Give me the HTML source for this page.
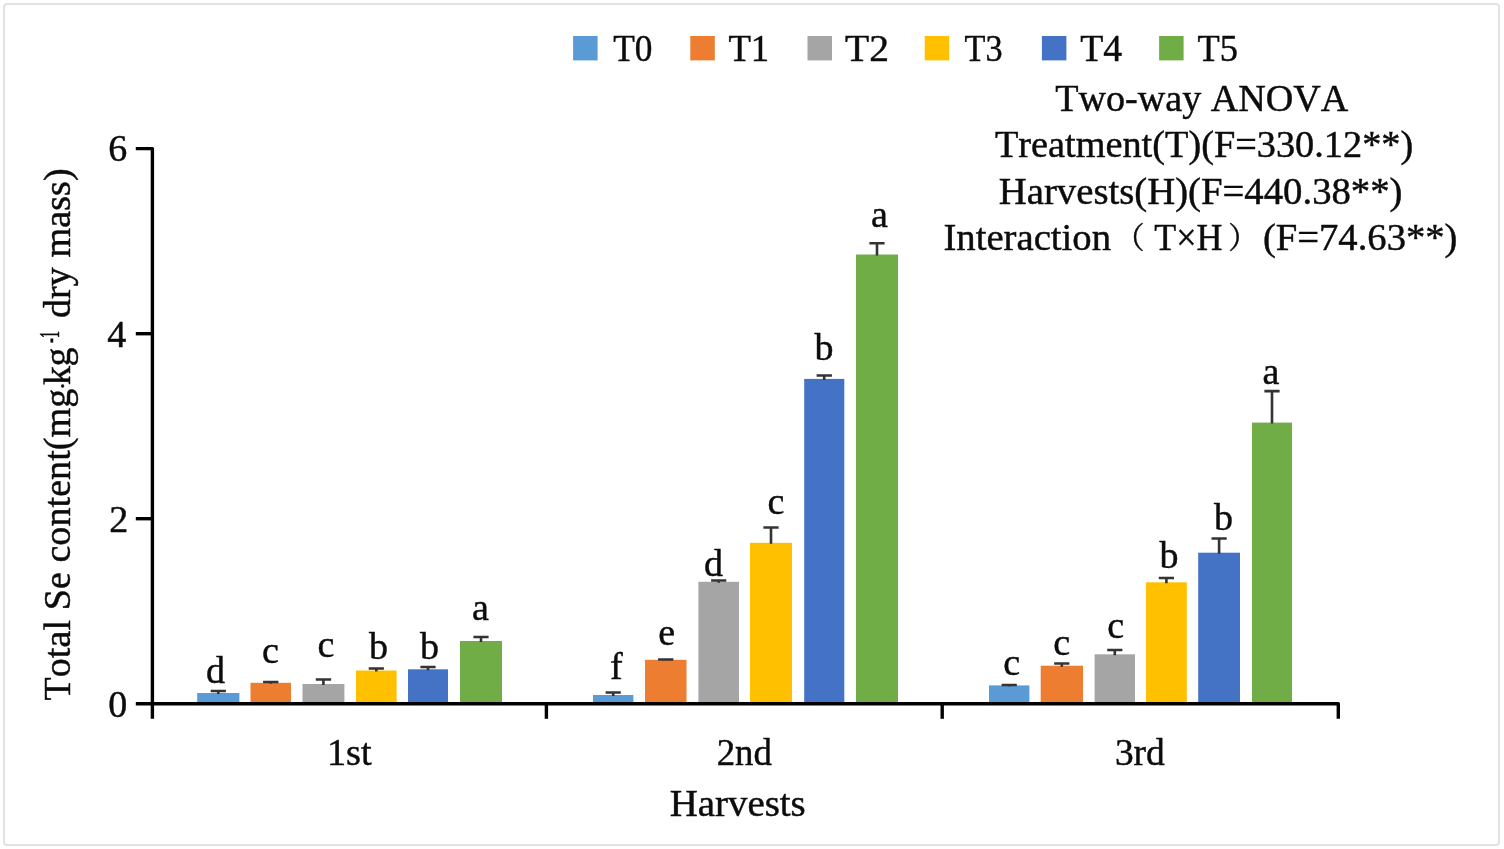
<!DOCTYPE html>
<html lang="en">
<head>
<meta charset="utf-8">
<title>Total Se content by harvest</title>
<style>
html,body{margin:0;padding:0;background:#fff;}
body{width:1504px;height:849px;overflow:hidden;}
svg{display:block;}
text{font-family:"Liberation Serif", "Noto Serif CJK SC", serif;font-size:38px;fill:#0c0c0c;stroke:#0c0c0c;stroke-width:0.45px;font-kerning:none;}
</style>
</head>
<body>
<svg width="1504" height="849" viewBox="0 0 1504 849">
<rect x="0" y="0" width="1504" height="849" fill="#ffffff"/>
<rect x="4" y="4" width="1495" height="841" rx="3" ry="3" fill="none" stroke="#e2e2e2" stroke-width="2"/>
<g>
<rect x="573.1" y="36" width="24.5" height="24.4" fill="#5B9BD5"/>
<rect x="690.3" y="36" width="24.5" height="24.4" fill="#ED7D31"/>
<rect x="807.5" y="36" width="24.5" height="24.4" fill="#A5A5A5"/>
<rect x="924.7" y="36" width="24.5" height="24.4" fill="#FFC000"/>
<rect x="1041.9" y="36" width="24.5" height="24.4" fill="#4472C4"/>
<rect x="1159.1" y="36" width="24.5" height="24.4" fill="#70AD47"/>
</g>
<g>
<rect x="197.2" y="693.0" width="42.2" height="10.8" fill="#5B9BD5"/>
<rect x="250.5" y="682.8" width="40.5" height="21.0" fill="#ED7D31"/>
<rect x="302.5" y="684.0" width="41.9" height="19.8" fill="#A5A5A5"/>
<rect x="356.0" y="670.5" width="40.6" height="33.3" fill="#FFC000"/>
<rect x="408.0" y="669.3" width="40.0" height="34.5" fill="#4472C4"/>
<rect x="460.0" y="641.0" width="42.0" height="62.8" fill="#70AD47"/>
<rect x="593.0" y="695.0" width="40.4" height="8.8" fill="#5B9BD5"/>
<rect x="645.0" y="659.8" width="41.5" height="44.0" fill="#ED7D31"/>
<rect x="698.4" y="581.8" width="40.6" height="122.0" fill="#A5A5A5"/>
<rect x="750.0" y="542.8" width="42.0" height="161.0" fill="#FFC000"/>
<rect x="804.2" y="378.9" width="40.1" height="324.9" fill="#4472C4"/>
<rect x="856.0" y="254.5" width="42.0" height="449.3" fill="#70AD47"/>
<rect x="989.0" y="685.4" width="40.4" height="18.4" fill="#5B9BD5"/>
<rect x="1040.7" y="665.7" width="42.3" height="38.1" fill="#ED7D31"/>
<rect x="1094.6" y="654.3" width="40.4" height="49.5" fill="#A5A5A5"/>
<rect x="1146.0" y="582.3" width="40.8" height="121.5" fill="#FFC000"/>
<rect x="1198.2" y="552.7" width="41.8" height="151.1" fill="#4472C4"/>
<rect x="1252.0" y="422.6" width="40.0" height="281.2" fill="#70AD47"/>
</g>
<g stroke="#333" stroke-width="2.6" fill="none">
<path d="M218.3 694.0V691.0M210.7 691.0H225.9"/>
<path d="M270.8 683.8V682.0M263.1 682.0H278.4"/>
<path d="M323.4 685.0V679.5M315.8 679.5H331.1"/>
<path d="M376.3 671.5V668.5M368.7 668.5H383.9"/>
<path d="M428.0 670.3V667.0M420.4 667.0H435.6"/>
<path d="M481.0 642.0V637.0M473.4 637.0H488.6"/>
<path d="M613.2 696.0V692.5M605.6 692.5H620.8"/>
<path d="M665.8 660.8V659.5M658.1 659.5H673.4"/>
<path d="M718.7 582.8V580.5M711.1 580.5H726.3"/>
<path d="M771.0 543.8V527.5M763.4 527.5H778.6"/>
<path d="M824.2 379.9V375.5M816.6 375.5H831.9"/>
<path d="M877.0 255.5V243.3M869.4 243.3H884.6"/>
<path d="M1009.2 686.4V685.0M1001.6 685.0H1016.8"/>
<path d="M1061.8 666.7V663.5M1054.2 663.5H1069.4"/>
<path d="M1114.8 655.3V650.0M1107.2 650.0H1122.4"/>
<path d="M1166.4 583.3V578.0M1158.8 578.0H1174.0"/>
<path d="M1219.1 553.7V538.5M1211.5 538.5H1226.7"/>
<path d="M1272.0 423.6V391.1M1264.4 391.1H1279.6"/>
</g>
<g stroke="#000" stroke-width="3.4" fill="none" stroke-linejoin="round">
<path d="M135.8 148.6H152.4V718.8"/>
<path d="M135.8 703.8H1338.3V718.8"/>
<path d="M135.8 518.7H152.4"/>
<path d="M135.8 333.7H152.4"/>
<path d="M546.4 703.8V718.8"/>
<path d="M942.2 703.8V718.8"/>
</g>
<g>
<text x="613.3" y="60.5" textLength="39.2" lengthAdjust="spacingAndGlyphs">T0</text>
<text x="728.4" y="60.5" textLength="40.8" lengthAdjust="spacingAndGlyphs">T1</text>
<text x="845.1" y="60.5" textLength="43.9" lengthAdjust="spacingAndGlyphs">T2</text>
<text x="964.5" y="60.5" textLength="38.0" lengthAdjust="spacingAndGlyphs">T3</text>
<text x="1080.2" y="60.5" textLength="41.9" lengthAdjust="spacingAndGlyphs">T4</text>
<text x="1197.5" y="60.5" textLength="40.4" lengthAdjust="spacingAndGlyphs">T5</text>
<text x="1055.2" y="110.8" textLength="293.1" lengthAdjust="spacingAndGlyphs">Two-way ANOVA</text>
<text x="994.9" y="157.4" textLength="418.3" lengthAdjust="spacingAndGlyphs">Treatment(T)(F=330.12**)</text>
<text x="998.8" y="204.3" textLength="403.7" lengthAdjust="spacingAndGlyphs">Harvests(H)(F=440.38**)</text>
<text x="943.4" y="249.8" textLength="167.7" lengthAdjust="spacingAndGlyphs">Interaction</text>
<text x="1114.6" y="247.5" style="font-size:30px">（</text>
<text x="1154.3" y="249.8" textLength="68.1" lengthAdjust="spacingAndGlyphs">T×H</text>
<text x="1228.2" y="247.5" style="font-size:30px">）</text>
<text x="1262.9" y="249.8" textLength="194.6" lengthAdjust="spacingAndGlyphs">(F=74.63**)</text>
<text x="108.2" y="716.6">0</text>
<text x="109.2" y="531.5">2</text>
<text x="107.2" y="346.5">4</text>
<text x="108.2" y="161.4">6</text>
<text x="326.9" y="764.8" textLength="44.8" lengthAdjust="spacingAndGlyphs">1st</text>
<text x="716.7" y="764.8" textLength="55.3" lengthAdjust="spacingAndGlyphs">2nd</text>
<text x="1114.9" y="764.8" textLength="49.9" lengthAdjust="spacingAndGlyphs">3rd</text>
<text x="669.8" y="816.0" textLength="135.9" lengthAdjust="spacingAndGlyphs">Harvests</text>
<text x="206.0" y="683.0">d</text>
<text x="262.0" y="662.6">c</text>
<text x="317.5" y="656.5">c</text>
<text x="369.0" y="659.0">b</text>
<text x="420.0" y="659.0">b</text>
<text x="472.0" y="620.0">a</text>
<text x="610.0" y="679.4">f</text>
<text x="658.2" y="645.0">e</text>
<text x="704.0" y="575.9">d</text>
<text x="767.5" y="513.5">c</text>
<text x="814.5" y="360.0">b</text>
<text x="871.0" y="227.0">a</text>
<text x="1003.2" y="675.0">c</text>
<text x="1053.2" y="655.0">c</text>
<text x="1107.3" y="638.0">c</text>
<text x="1159.5" y="567.5">b</text>
<text x="1214.0" y="530.0">b</text>
<text x="1262.4" y="383.9">a</text>
</g>
<g transform="translate(70 700.5) rotate(-90)">
<text x="0" y="0" letter-spacing="0.08">Total Se content(mg</text>
<text x="310.5" y="0" style="font-size:24px">·</text>
<text x="315.5" y="0" letter-spacing="-0.6">kg</text>
<text transform="translate(357.5 -11.5) scale(0.5 1)" x="0" y="0" style="font-size:29px">-1</text>
<text x="382.5" y="0" letter-spacing="0.1">dry mass)</text>
</g>
</svg>
</body>
</html>
